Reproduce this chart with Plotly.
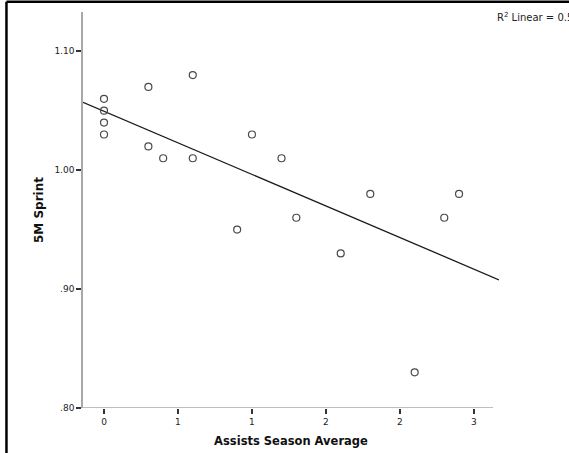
import numpy as np
import plotly.graph_objects as go

# Data
assists = [0, 0, 0, 0, 0.3, 0.3, 0.4, 0.6, 0.6, 1.0, 0.9, 1.2, 1.3, 1.8, 2.4, 2.3, 1.6, 2.1]
sprint = [1.06, 1.05, 1.04, 1.03, 1.07, 1.02, 1.01, 1.08, 1.01, 1.03, 0.95, 1.01, 0.96, 0.98, 0.98, 0.96, 0.93, 0.83]

x_tickvals = [0, 0.5, 1.0, 1.5, 2.0, 2.5]
x_ticktext = ["0", "1", "1", "2", "2", "3"]
y_tickvals = [0.80, 0.90, 1.00, 1.10]
y_ticktext = [".80", ".90", "1.00", "1.10"]

x_range = [-0.142, 2.67]
y_range = [0.80, 1.133]
x_axis_end = 2.63

xa = np.array(assists)
ya = np.array(sprint)
slope, intercept = np.polyfit(xa, ya, 1)
pred = slope * xa + intercept
r2 = 1 - np.sum((ya - pred) ** 2) / np.sum((ya - ya.mean()) ** 2)
fit_x = np.array(x_range)
fit_y = slope * fit_x + intercept

font = "DejaVu Sans"

fig = go.Figure()
fig.add_trace(go.Scatter(x=fit_x, y=fit_y, mode="lines",
                         line=dict(color="#1a1a1a", width=1.3),
                         hoverinfo="skip", showlegend=False))
fig.add_trace(go.Scatter(x=assists, y=sprint, mode="markers",
                         marker=dict(symbol="circle-open", size=7,
                                     color="#4a4a4a", line=dict(width=1.2, color="#4a4a4a")),
                         showlegend=False))

fig.update_layout(
    width=569, height=453,
    margin=dict(l=83, r=70, t=12, b=45),
    paper_bgcolor="white", plot_bgcolor="white",
    font=dict(family=font, size=9, color="#222"),
    xaxis=dict(range=x_range, showgrid=False, zeroline=False, showline=False,
               automargin=False,
               tickmode="array", tickvals=x_tickvals, ticktext=x_ticktext,
               ticks="outside", ticklen=5, tickwidth=1.5, tickcolor="#333",
               tickfont=dict(size=9, family=font, color="#222"),
               title=dict(text="<b>Assists Season Average</b>", standoff=11,
                          font=dict(size=11.5, family=font, color="#111"))),
    yaxis=dict(range=y_range, showgrid=False, zeroline=False, showline=True,
               automargin=False,
               linecolor="#a8a8a8", linewidth=1.5,
               tickmode="array", tickvals=y_tickvals, ticktext=y_ticktext,
               ticks="outside", ticklen=5, tickwidth=1.5, tickcolor="#333",
               tickfont=dict(size=9, family=font, color="#222"),
               title=dict(text="<b>5M Sprint</b>", standoff=8,
                          font=dict(size=12, family=font, color="#111"))),
)

# x axis line (ends slightly before the plot edge, as in the reference)
fig.add_shape(type="line", xref="x", yref="y", x0=x_range[0], x1=x_axis_end,
              y0=y_range[0], y1=y_range[0], line=dict(color="#a8a8a8", width=1.5))

# outer frame (top and left edges visible)
fig.add_shape(type="line", xref="paper", yref="paper", x0=-0.184, x1=1.3,
              y0=1.026, y1=1.026, line=dict(color="black", width=2.5))
fig.add_shape(type="line", xref="paper", yref="paper", x0=-0.184, x1=-0.184,
              y0=-0.2, y1=1.026, line=dict(color="black", width=2.5))

fig.add_annotation(xref="paper", yref="paper", x=(495 - 83) / 416, y=(453 - 45 - 17) / 396,
                   xanchor="left", yanchor="middle", showarrow=False,
                   text=f"R<sup>2</sup> Linear = {r2:.3f}",
                   font=dict(size=10, family=font, color="#222"))

fig.write_html("out.html")
